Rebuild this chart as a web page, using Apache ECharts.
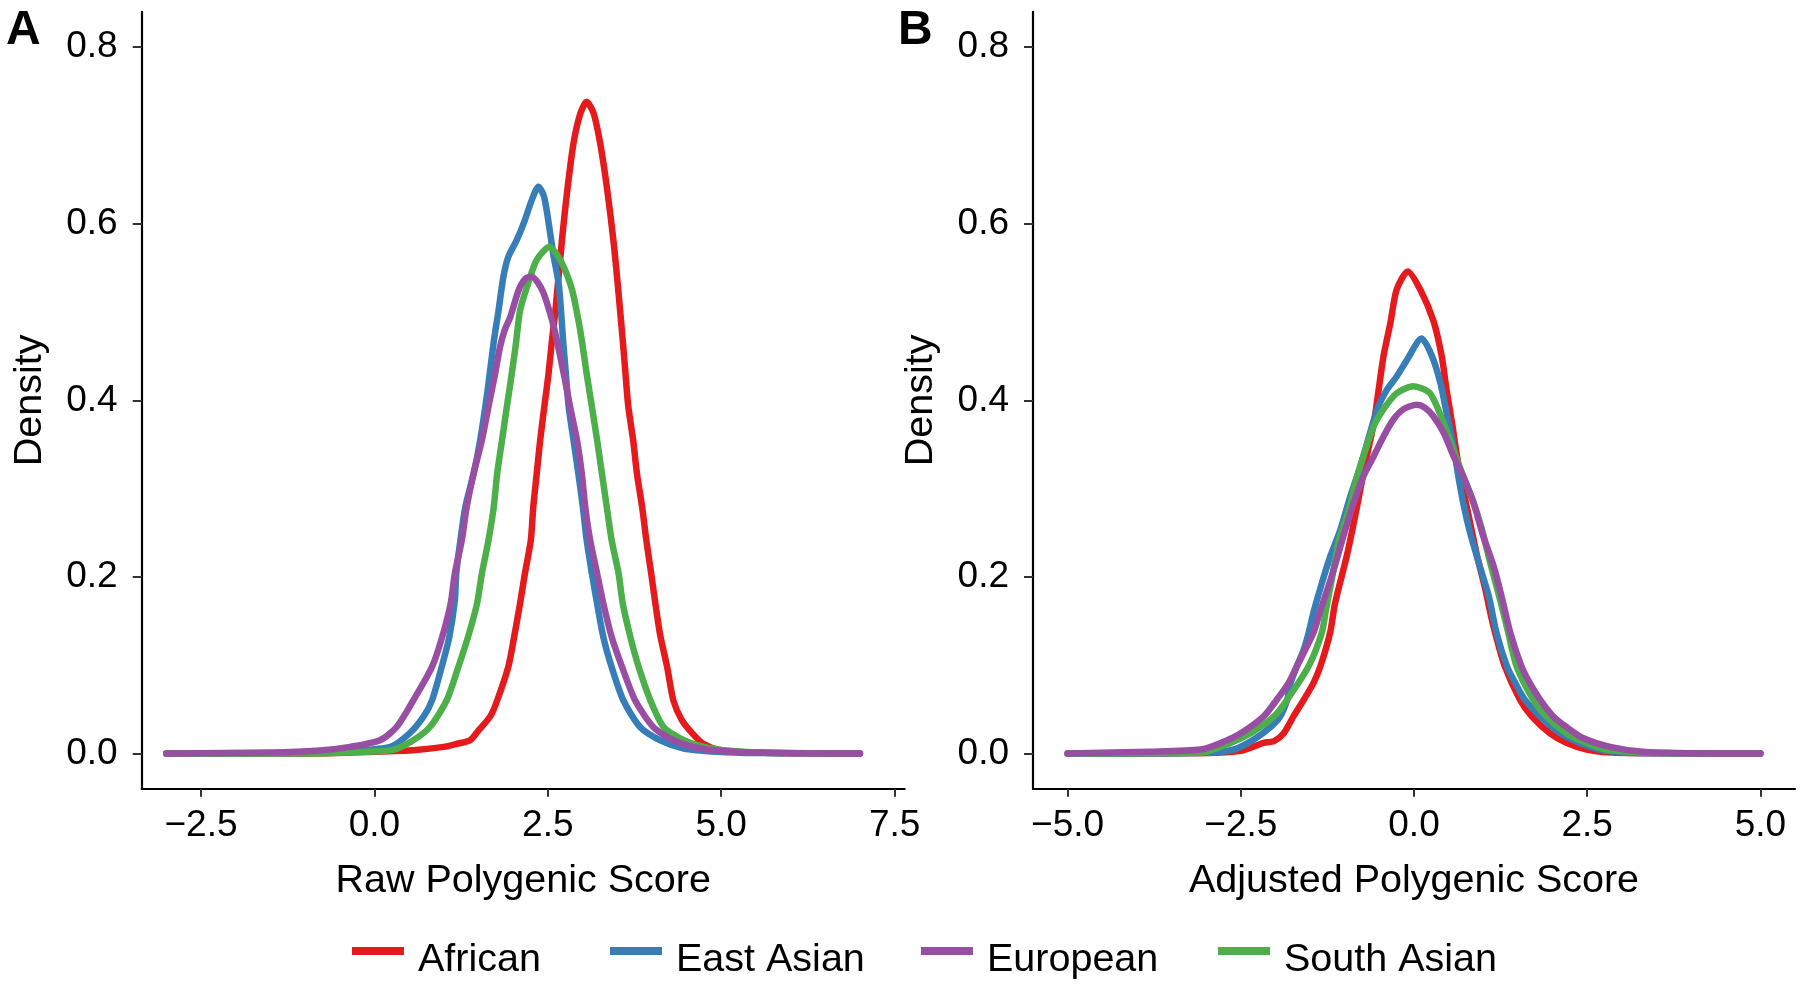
<!DOCTYPE html>
<html>
<head>
<meta charset="utf-8">
<script src="https://cdn.jsdelivr.net/npm/echarts@6/dist/echarts.min.js"></script>
<style>
html,body{margin:0;padding:0;background:#fff;}
#chart{width:1800px;height:986px;}
</style>
</head>
<body>
<div id="chart"></div>
<script>
// ---------------- data ----------------
const groups = ['African', 'East Asian', 'European', 'South Asian'];
const densityTicks = [0, 0.2, 0.4, 0.6, 0.8];
const rawTicks = [-2.5, 0, 2.5, 5, 7.5];
const adjTicks = [-5, -2.5, 0, 2.5, 5];

// Panel A: raw polygenic score densities [score, density]
const rawAfrican = [[-3,0],[-1,0],[0,0.002],[0.6,0.004],[1.0,0.0075],[1.19,0.011],[1.38,0.015],[1.5,0.026],[1.67,0.042],[1.77,0.06],[1.93,0.098],[2.01,0.13],[2.1,0.17],[2.17,0.204],[2.255,0.2416],[2.29,0.279],[2.34,0.317],[2.39,0.355],[2.45,0.393],[2.51,0.43],[2.56,0.468],[2.61,0.502],[2.7,0.578],[2.775,0.634],[2.87,0.691],[2.97,0.725],[3.06,0.738],[3.16,0.725],[3.255,0.691],[3.35,0.642],[3.45,0.578],[3.52,0.521],[3.58,0.468],[3.62,0.43],[3.66,0.393],[3.73,0.355],[3.785,0.317],[3.86,0.279],[3.92,0.2416],[3.99,0.204],[4.05,0.17],[4.12,0.134],[4.22,0.098],[4.31,0.06],[4.43,0.038],[4.58,0.023],[4.74,0.011],[4.98,0.004],[5.5,0.001],[7,0]];
const rawEastAsian = [[-3,0],[-1,0.0005],[-0.35,0.003],[0.23,0.0075],[0.51,0.023],[0.71,0.042],[0.83,0.06],[0.97,0.098],[1.08,0.132],[1.16,0.174],[1.18,0.204],[1.24,0.2416],[1.31,0.279],[1.43,0.317],[1.525,0.355],[1.63,0.41],[1.72,0.466],[1.79,0.502],[1.86,0.54],[1.93,0.5625],[2.05,0.581],[2.15,0.6],[2.27,0.627],[2.365,0.642],[2.44,0.632],[2.49,0.612],[2.58,0.565],[2.66,0.53],[2.72,0.468],[2.76,0.43],[2.8,0.393],[2.87,0.355],[2.94,0.317],[3.005,0.279],[3.06,0.2416],[3.135,0.204],[3.21,0.17],[3.3,0.132],[3.42,0.098],[3.59,0.06],[3.83,0.03],[4.12,0.015],[4.46,0.0057],[4.94,0.002],[5.5,0.0005],[7,0]];
const rawEuropean = [[-3,0],[-1.5,0.001],[-0.83,0.003],[-0.35,0.0075],[0.08,0.015],[0.32,0.03],[0.56,0.06],[0.83,0.098],[0.97,0.13],[1.1,0.17],[1.16,0.204],[1.26,0.2416],[1.33,0.279],[1.43,0.317],[1.55,0.355],[1.645,0.393],[1.74,0.43],[1.81,0.46],[1.88,0.48],[1.96,0.4945],[2.08,0.525],[2.18,0.538],[2.27,0.54],[2.36,0.533],[2.44,0.521],[2.56,0.491],[2.63,0.468],[2.73,0.43],[2.82,0.393],[2.92,0.355],[2.99,0.317],[3.04,0.279],[3.11,0.2416],[3.21,0.204],[3.3,0.17],[3.42,0.132],[3.57,0.098],[3.76,0.06],[4.02,0.03],[4.31,0.015],[4.7,0.0057],[5.18,0.002],[6,0.0003],[7,0]];
const rawSouthAsian = [[-3,0],[-1,0],[-0.11,0.002],[0.27,0.004],[0.56,0.015],[0.8,0.03],[1.04,0.06],[1.21,0.098],[1.35,0.132],[1.48,0.17],[1.55,0.204],[1.645,0.2416],[1.72,0.279],[1.77,0.317],[1.84,0.355],[1.91,0.393],[1.98,0.43],[2.04,0.464],[2.1,0.502],[2.2,0.5285],[2.34,0.559],[2.525,0.574],[2.63,0.565],[2.73,0.551],[2.85,0.525],[2.94,0.491],[2.99,0.468],[3.06,0.43],[3.135,0.393],[3.21,0.355],[3.28,0.317],[3.35,0.279],[3.42,0.2416],[3.52,0.204],[3.58,0.17],[3.69,0.132],[3.81,0.098],[3.98,0.06],[4.17,0.03],[4.46,0.015],[4.85,0.0057],[5.3,0.002],[6,0.0003],[7,0]];

// Panel B: adjusted polygenic score densities [score, density]
const adjAfrican = [[-5,0],[-3,0.0005],[-2.5,0.003],[-2.31,0.008],[-2.17,0.012],[-2.02,0.014],[-1.88,0.023],[-1.74,0.042],[-1.59,0.061],[-1.45,0.08],[-1.35,0.099],[-1.21,0.137],[-1.14,0.17],[-0.97,0.224],[-0.87,0.261],[-0.775,0.299],[-0.68,0.337],[-0.58,0.374],[-0.51,0.412],[-0.44,0.45],[-0.34,0.488],[-0.25,0.5255],[-0.09,0.546],[0.09,0.5255],[0.28,0.49],[0.4,0.45],[0.47,0.412],[0.55,0.374],[0.62,0.337],[0.71,0.299],[0.81,0.261],[0.91,0.224],[1.03,0.186],[1.1,0.16],[1.17,0.137],[1.31,0.099],[1.53,0.061],[1.7,0.042],[1.96,0.023],[2.2,0.012],[2.49,0.0045],[2.87,0.001],[3.5,0.0002],[5,0]];
const adjEastAsian = [[-5,0],[-3.08,0.0005],[-2.6,0.0045],[-2.31,0.016],[-2.07,0.03],[-1.93,0.042],[-1.83,0.061],[-1.78,0.08],[-1.69,0.099],[-1.59,0.118],[-1.52,0.137],[-1.45,0.16],[-1.33,0.193],[-1.21,0.223],[-1.06,0.254],[-0.92,0.291],[-0.775,0.325],[-0.66,0.356],[-0.53,0.39],[-0.39,0.412],[-0.25,0.427],[-0.1,0.446],[0.11,0.47],[0.26,0.45],[0.38,0.42],[0.47,0.386],[0.57,0.348],[0.64,0.314],[0.71,0.284],[0.81,0.25],[0.95,0.212],[1.08,0.178],[1.19,0.137],[1.34,0.099],[1.46,0.08],[1.6,0.061],[1.82,0.042],[2.11,0.023],[2.39,0.012],[2.68,0.0045],[2.97,0.0015],[3.5,0.0003],[5,0]];
const adjEuropean = [[-5,0],[-3.8,0.002],[-3.08,0.0045],[-2.79,0.012],[-2.5,0.023],[-2.17,0.042],[-1.98,0.061],[-1.81,0.08],[-1.69,0.099],[-1.45,0.137],[-1.36,0.16],[-1.3,0.174],[-1.16,0.208],[-1.02,0.246],[-0.87,0.284],[-0.73,0.314],[-0.58,0.337],[-0.44,0.359],[-0.3,0.378],[-0.15,0.39],[0.04,0.395],[0.15,0.392],[0.28,0.382],[0.43,0.363],[0.57,0.337],[0.71,0.314],[0.86,0.284],[1.0,0.246],[1.15,0.212],[1.27,0.176],[1.39,0.137],[1.55,0.099],[1.67,0.08],[1.82,0.061],[2.01,0.042],[2.2,0.03],[2.44,0.0175],[2.83,0.0075],[3.3,0.002],[4,0.0003],[5,0]];
const adjSouthAsian = [[-5,0],[-3.08,0.001],[-2.65,0.012],[-2.36,0.023],[-2.02,0.042],[-1.83,0.061],[-1.52,0.099],[-1.33,0.137],[-1.27,0.163],[-1.18,0.2],[-1.09,0.239],[-0.94,0.276],[-0.82,0.314],[-0.7,0.344],[-0.58,0.371],[-0.44,0.39],[-0.25,0.408],[-0.01,0.416],[0.23,0.408],[0.43,0.374],[0.57,0.344],[0.71,0.314],[0.86,0.284],[0.98,0.254],[1.1,0.216],[1.25,0.172],[1.36,0.137],[1.48,0.099],[1.72,0.061],[1.91,0.042],[2.2,0.023],[2.49,0.012],[2.78,0.0045],[3.3,0.001],[4,0.0002],[5,0]];

// ---------------- styling / layout ----------------
const colors = {'African':'#E41A1C','East Asian':'#377EB8','European':'#984EA3','South Asian':'#4DAF4A'};
const FONT = '"Liberation Sans", Arial, Helvetica, sans-serif';
const drawOrder = ['African','East Asian','South Asian','European'];
const rawData = {'African':rawAfrican,'East Asian':rawEastAsian,'European':rawEuropean,'South Asian':rawSouthAsian};
const adjData = {'African':adjAfrican,'East Asian':adjEastAsian,'European':adjEuropean,'South Asian':adjSouthAsian};

function fmt(v){ const s = Math.abs(v).toFixed(1); return v < 0 ? '\u2212' + s : s; }

function xAxisCfg(grid, min, max, ticks, title){
  return {
    type:'value', gridIndex:grid, min:min, max:max,
    splitLine:{show:false},
    axisLine:{onZero:false, lineStyle:{color:'#000', width:2.2}},
    axisTick:{customValues:ticks, length:8, lineStyle:{color:'#333', width:2}},
    axisLabel:{customValues:ticks, formatter:fmt, fontSize:37, color:'#000', fontFamily:FONT, margin:18},
    name:title, nameLocation:'middle', nameGap:72,
    nameTextStyle:{fontSize:39.5, color:'#000', fontFamily:FONT}
  };
}
function yAxisCfg(grid){
  return {
    type:'value', gridIndex:grid, min:-0.04, max:0.84,
    splitLine:{show:false},
    axisLine:{onZero:false, lineStyle:{color:'#000', width:2.2}},
    axisTick:{customValues:densityTicks, length:9, lineStyle:{color:'#333', width:2}},
    axisLabel:{customValues:densityTicks, formatter:fmt, fontSize:37, color:'#000', fontFamily:FONT, margin:24},
    name:'Density', nameLocation:'middle', nameGap:92,
    nameTextStyle:{fontSize:39.5, color:'#000', fontFamily:FONT}
  };
}

const series = [];
drawOrder.forEach(g => {
  [[0, rawData],[1, adjData]].forEach(([gi, src]) => {
    series.push({
      name:g, type:'line', xAxisIndex:gi, yAxisIndex:gi,
      data:src[g], showSymbol:false, symbol:'none', smooth:0.25,
      lineStyle:{color:colors[g], width:6.5, cap:'round', join:'round'},
      itemStyle:{color:colors[g]}, animation:false, z:2
    });
  });
});

// legend key: a bar sitting in the upper part of the icon box, so the label sits a little lower (as in the original)
const keyIcon = 'path://M0,0L52,0L52,8L0,8ZM0,26L0,26Z';
const legendLeft = [352, 610, 921, 1218];
const legends = groups.map((g,i) => ({
  data:[g], left:legendLeft[i], top:940, padding:0,
  icon:keyIcon, itemWidth:52, itemHeight:26,
  textStyle:{fontSize:39.5, color:'#000', fontFamily:FONT, padding:[0,0,0,9]},
  selectedMode:false
}));

const chart = echarts.init(document.getElementById('chart'), null, {renderer:'canvas'});
chart.setOption({
  backgroundColor:'#fff',
  animation:false,
  color:groups.map(g=>colors[g]),
  grid:[
    {left:141.7, top:11.8, width:763, height:777},
    {left:1033, top:11.8, width:762, height:777}
  ],
  xAxis:[
    xAxisCfg(0, -3.355, 7.645, rawTicks, 'Raw Polygenic Score'),
    xAxisCfg(1, -5.5, 5.5, adjTicks, 'Adjusted Polygenic Score')
  ],
  yAxis:[yAxisCfg(0), yAxisCfg(1)],
  legend:legends,
  series:series,
  graphic:[
    {type:'text', left:6, top:7, style:{text:'A', font:'bold 48px ' + FONT, fill:'#000'}},
    {type:'text', left:898, top:7, style:{text:'B', font:'bold 48px ' + FONT, fill:'#000'}}
  ]
});
</script>
</body>
</html>
